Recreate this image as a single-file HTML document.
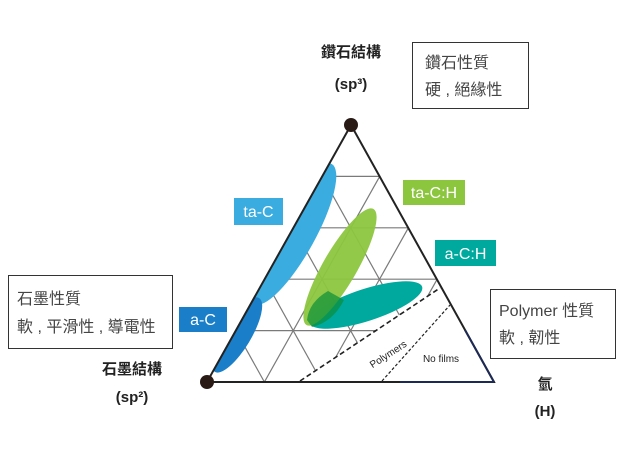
<!DOCTYPE html>
<html><head><meta charset="utf-8"><style>
body{margin:0;background:#fff;}
svg{display:block;}
text{font-family:"Liberation Sans","Noto Sans CJK TC",sans-serif;}
</style></head><body>
<svg width="643" height="460" viewBox="0 0 643 460" xmlns="http://www.w3.org/2000/svg">
<defs><clipPath id="tri"><polygon points="351,125 207,382 494,382"/></clipPath></defs>
<rect width="643" height="460" fill="#fff"/>
<g stroke="#7a7a7a" stroke-width="1.2" fill="none">
<line x1="322.2" y1="176.4" x2="379.7" y2="176.4"/>
<line x1="293.4" y1="227.8" x2="408.4" y2="227.8"/>
<line x1="264.6" y1="279.2" x2="437.2" y2="279.2"/>
<line x1="235.8" y1="330.6" x2="465.9" y2="330.6"/>
<line x1="264.4" y1="382" x2="379.7" y2="176.4"/>
<line x1="321.8" y1="382" x2="408.4" y2="227.8"/>
<line x1="379.2" y1="382" x2="437.2" y2="279.2"/>
<line x1="436.6" y1="382" x2="465.9" y2="330.6"/>
<line x1="264.4" y1="382" x2="235.8" y2="330.6"/>
<line x1="321.8" y1="382" x2="264.6" y2="279.2"/>
<line x1="379.2" y1="382" x2="293.4" y2="227.8"/>
<line x1="436.6" y1="382" x2="322.2" y2="176.4"/>
</g>
<polygon points="300,381 440,288 470,330 494,382" fill="#fff"/>
<g clip-path="url(#tri)">
<ellipse cx="293" cy="234" rx="80" ry="22" transform="rotate(-61 293 234)" fill="#3aace0"/>
<ellipse cx="237" cy="335" rx="43" ry="14" transform="rotate(-59 237 335)" fill="#1a7fc8"/>
</g>
<ellipse cx="366" cy="305" rx="59" ry="16" transform="rotate(-18 366 305)" fill="#00a99d"/>
<ellipse cx="340" cy="267" rx="67" ry="17" transform="rotate(-60 340 267)" fill="#8cc63f" opacity="0.95"/>
<path d="M307,320 Q309,302 328,291 L344,300 Q333,322 312,327 Z" fill="#0b8f3a" opacity="0.7"/>
<polygon points="351,125 207,382 494,382" fill="none" stroke="#222" stroke-width="2"/>
<line x1="465" y1="330" x2="494" y2="382" stroke="#1d2a55" stroke-width="2"/>
<line x1="400" y1="382" x2="494" y2="382" stroke="#1d2a55" stroke-width="2"/>
<line x1="300" y1="381" x2="440" y2="288" stroke="#222" stroke-width="1.6" stroke-dasharray="5,3"/>
<line x1="382" y1="381" x2="450" y2="305" stroke="#222" stroke-width="1.2" stroke-dasharray="3,2"/>
<text x="390" y="357" font-size="10" transform="rotate(-33 390 357)" text-anchor="middle" fill="#222">Polymers</text>
<text x="441" y="362" font-size="10" text-anchor="middle" fill="#222">No films</text>
<circle cx="351" cy="125" r="7" fill="#2a1a16"/>
<circle cx="207" cy="382" r="7" fill="#2a1a16"/>
<rect x="234" y="198" width="49" height="27" fill="#3aace0"/>
<text x="258.5" y="217" font-size="16" fill="#fff" text-anchor="middle">ta-C</text>
<rect x="179" y="307" width="48" height="25" fill="#1a7fc8"/>
<text x="203" y="325" font-size="16" fill="#fff" text-anchor="middle">a-C</text>
<rect x="403" y="180" width="62" height="25" fill="#8cc63f"/>
<text x="434" y="198" font-size="16" fill="#fff" text-anchor="middle">ta-C:H</text>
<rect x="435" y="240" width="61" height="26" fill="#00a99d"/>
<text x="465.5" y="259" font-size="16" fill="#fff" text-anchor="middle">a-C:H</text>
<rect x="412.5" y="42.5" width="116" height="66" fill="#fff" stroke="#333"/>
<text x="425" y="68" font-size="16" fill="#444">鑽石性質</text>
<text x="425" y="95" font-size="16" fill="#444">硬 , 絕緣性</text>
<rect x="8.5" y="275.5" width="164" height="73" fill="#fff" stroke="#333"/>
<text x="17" y="304" font-size="16" fill="#444">石墨性質</text>
<text x="17" y="332" font-size="16" fill="#444">軟 , 平滑性 , 導電性</text>
<rect x="490.5" y="289.5" width="125" height="69" fill="#fff" stroke="#333"/>
<text x="499" y="316" font-size="16" fill="#444">Polymer 性質</text>
<text x="499" y="343" font-size="16" fill="#444">軟 , 韌性</text>
<text x="351" y="57" font-size="15" font-weight="bold" text-anchor="middle" fill="#222">鑽石結構</text>
<text x="351" y="89" font-size="15" font-weight="bold" text-anchor="middle" fill="#222">(sp³)</text>
<text x="132" y="374" font-size="15" font-weight="bold" text-anchor="middle" fill="#222">石墨結構</text>
<text x="132" y="402" font-size="15" font-weight="bold" text-anchor="middle" fill="#222">(sp²)</text>
<text x="545" y="389" font-size="15" font-weight="bold" text-anchor="middle" fill="#222">氫</text>
<text x="545" y="416" font-size="15" font-weight="bold" text-anchor="middle" fill="#222">(H)</text>
</svg>
</body></html>
